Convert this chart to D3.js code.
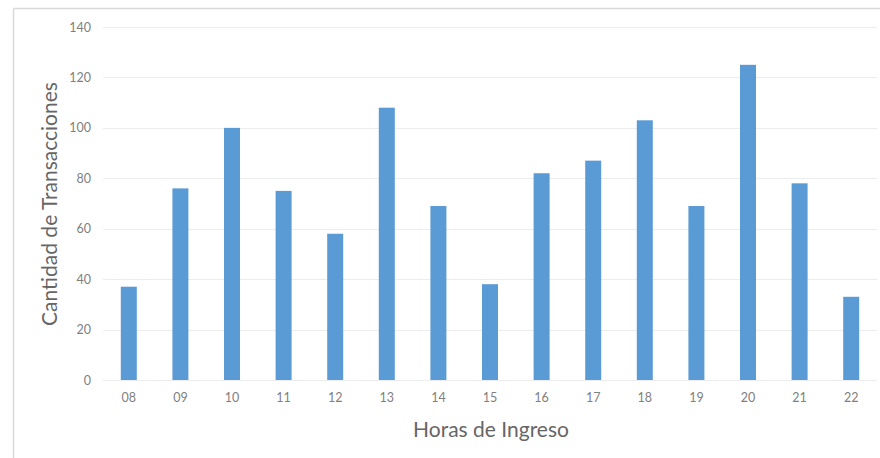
<!DOCTYPE html>
<html>
<head>
<meta charset="utf-8">
<script src="https://cdn.jsdelivr.net/npm/d3@7"></script>
<style>
  html, body { margin: 0; padding: 0; background: #fff; }
  svg { display: block; }
</style>
</head>
<body>
<svg id="chart" width="880" height="458"></svg>
<script>
// Transactions per entry hour
const horas = ["08","09","10","11","12","13","14","15","16","17","18","19","20","21","22"];
const transacciones = [37, 76, 100, 75, 58, 108, 69, 38, 82, 87, 103, 69, 125, 78, 33];
const yTicks = [0, 20, 40, 60, 80, 100, 120, 140];

const svg = d3.select("#chart");
const W = 880, H = 458;
const plot = { left: 103, right: 877, top: 27, bottom: 380 };
const font = "Lato, 'Open Sans', sans-serif";

// outer chart frame (top and left edges visible)
svg.append("line").attr("x1", 13.5).attr("x2", W).attr("y1", 8.5).attr("y2", 8.5)
  .attr("stroke", "#d9d9d9").attr("stroke-width", 1.5);
svg.append("line").attr("x1", 13.5).attr("x2", 13.5).attr("y1", 8.5).attr("y2", H)
  .attr("stroke", "#d9d9d9").attr("stroke-width", 1.5);

const x = d3.scaleBand().domain(horas).range([plot.left, plot.right]).paddingInner(0.69).paddingOuter(0.345);
const y = d3.scaleLinear().domain([0, 140]).range([plot.bottom, plot.top]);

// horizontal gridlines
svg.append("g").selectAll("line").data(yTicks).join("line")
  .attr("x1", plot.left).attr("x2", plot.right)
  .attr("y1", d => Math.round(y(d)) + 0.5).attr("y2", d => Math.round(y(d)) + 0.5)
  .attr("stroke", "#ececec").attr("stroke-width", 1.2);

// y axis labels
const yAxis = d3.axisLeft(y).tickValues(yTicks).tickSize(0).tickPadding(0);
const gy = svg.append("g").attr("transform", `translate(${plot.left - 12},0)`).call(yAxis);
gy.select(".domain").remove();
gy.selectAll("text").attr("fill", "#808080").style("font-family", font).style("font-size", "12.5px");

// bars
svg.append("g").selectAll("rect").data(horas).join("rect")
  .attr("x", d => x(d))
  .attr("width", x.bandwidth())
  .attr("y", (d, i) => y(transacciones[i]))
  .attr("height", (d, i) => y(0) - y(transacciones[i]))
  .attr("fill", "#5b9bd5");

// x axis labels
const xAxis = d3.axisBottom(x).tickSize(0).tickPadding(0);
const gx = svg.append("g").attr("transform", `translate(0,${plot.bottom + 13})`).call(xAxis);
gx.select(".domain").remove();
gx.selectAll("text").attr("fill", "#808080").style("font-family", font).style("font-size", "12.5px");

// axis titles
svg.append("text").attr("x", 491).attr("y", 437)
  .attr("text-anchor", "middle").attr("fill", "#666").style("font-family", font).style("font-size", "21px")
  .text("Horas de Ingreso");
svg.append("text").attr("transform", "translate(57,204) rotate(-90)")
  .attr("text-anchor", "middle").attr("fill", "#666").style("font-family", font).style("font-size", "21px")
  .text("Cantidad de Transacciones");
</script>
</body>
</html>
